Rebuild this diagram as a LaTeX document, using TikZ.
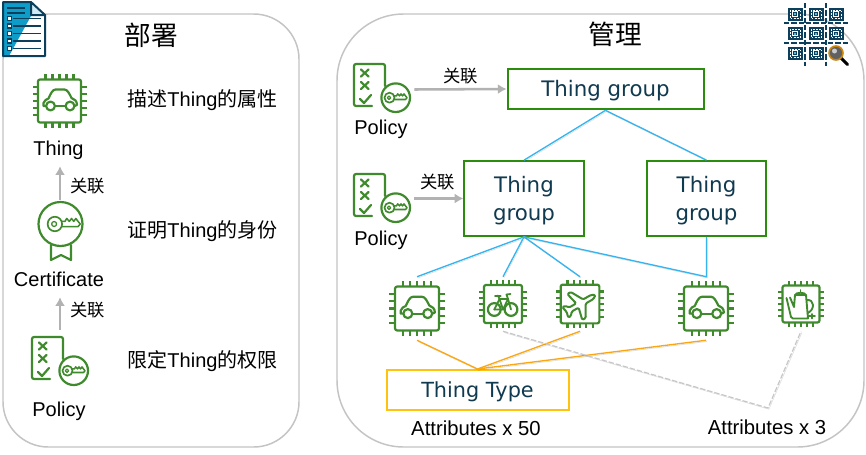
\documentclass[tikz,border=0pt]{standalone}
\usepackage{fontspec}
\setmainfont{Liberation Sans}
\newfontfamily\cjkf{Noto Sans CJK SC}
\newfontfamily\djvf{DejaVu Sans}
\usetikzlibrary{arrows.meta}
\definecolor{icong}{HTML}{3F8A2C}
\definecolor{boxg}{HTML}{2C8C0E}
\definecolor{navy}{HTML}{0C3F5C}
\definecolor{tcol}{HTML}{103A50}
\definecolor{cy}{HTML}{0E9CC8}
\definecolor{bl}{HTML}{35B4F0}
\definecolor{org}{HTML}{FBA714}
\definecolor{yel}{HTML}{FFC20E}
\definecolor{panel}{HTML}{C4C4C4}
\newcommand{\dn}[1]{\raisebox{-1.5pt}[\dimexpr\height+1.5pt\relax]{#1}}
\tikzset{
  x=.75pt,y=-.75pt,
  panelbox/.style={draw=panel,line width=1.1pt},
  soft/.style={preaction={draw=black,opacity=.14,transform canvas={shift={(.7pt,-.9pt)}}}},
  grayarrow/.style={draw=black!30,line width=1.9pt,-{Latex[length=6.5pt,width=7.5pt]}},
  blueline/.style={draw=bl,line width=1pt,soft},
  orangeline/.style={draw=org,line width=1pt,soft},
  dashline/.style={draw=black!22,line width=.9pt,dash pattern=on 4pt off 1.5pt,soft},
  greenbox/.style={draw=boxg,line width=1.5pt,fill=white,inner sep=0pt,font=\djvf\fontsize{16}{21}\selectfont,text=tcol,align=center},
  lab/.style={inner sep=0pt,font=\fontsize{15}{18}\selectfont},
  desc/.style={inner sep=0pt,font=\fontsize{15}{18}\selectfont},
  assoc/.style={inner sep=0pt,font=\cjkf\fontsize{13}{16}\selectfont},
  anchorbox/.style={inner sep=0pt,minimum width=#1,minimum height=#1},
  icon/.style={draw=icong,line width=1.65pt,line cap=round,line join=round},
  chip/.pic={
    \draw[icon,rounded corners=1.5pt,fill=white] (-21.5,-21.5) rectangle (21.5,21.5);
    \foreach \p in {-14,-7,0,7,14}{
      \draw[icon,line cap=butt] (\p,-21.5)--(\p,-27);
      \draw[icon,line cap=butt] (\p,21.5)--(\p,27);
      \draw[icon,line cap=butt] (-21.5,\p)--(-27,\p);
      \draw[icon,line cap=butt] (21.5,\p)--(27,\p);
    }
  },
  carshape/.pic={
    \draw[icon] (-13.5,5) -- (-16,5) -- (-16,2) .. controls (-15,-1) and (-13,-1.5) .. (-11,-2.5) .. controls (-9,-7) and (-7,-11.5) .. (-4,-11.5) -- (5,-11.5) .. controls (8,-11.5) and (10,-7) .. (12,-3) .. controls (15,-2) and (17.5,0) .. (17.5,4) -- (15,5);
    \draw[icon] (-4.5,5) -- (6,5);
    \draw[icon] (-9,5) circle (4.4);
    \draw[icon] (10.5,5) circle (4.4);
  },
  bikeshape/.pic={
    \draw[icon] (-8.7,5.5) circle (6.4);
    \draw[icon] (8,5.5) circle (6.4);
    \draw[icon,line width=1.35pt] (-8.7,5.5)--(-3.5,-5)--(5,-5)--(8,5.5);
    \draw[icon,line width=1.35pt] (-8.7,5.5)--(0,5.5)--(5,-5);
    \draw[icon,line width=1.35pt] (-3.5,-5)--(0,5.5);
    \draw[icon,line width=1.35pt] (-5,-8.5)--(-3.5,-5);
    \draw[icon,line width=1.5pt] (-8,-8.5)--(-2.5,-8.5);
    \draw[icon,line width=1.35pt] (5,-5)--(3.5,-9.5)--(7.5,-10);
  },
  planeshape/.pic={
    \draw[icon,line width=1.5pt,rotate=30,rounded corners=1pt] (18,0) -- (14,-2.4) -- (5,-2.4) -- (-2,-15) -- (-6,-15) -- (-3,-2.4) -- (-11,-2.4) -- (-14,-6) -- (-17,-6) -- (-15.5,0) -- (-17,6) -- (-14,6) -- (-11,2.4) -- (-3,2.4) -- (-6,15) -- (-2,15) -- (5,2.4) -- (14,2.4) -- cycle;
  },
  kettleshape/.pic={
    \draw[icon,line width=1.4pt] (-14.5,-6) -- (-10,13) -- (-8,14.5) -- (7,14.5) -- (5,-9) -- (-6,-9) -- (-7,3) -- (-11,-6.5);
    \draw[icon,line width=1.4pt] (-6,-9) .. controls (-5,-12) and (4,-12) .. (5,-9);
    \draw[icon,line width=1.4pt] (-.5,-12) -- (-.5,-14);
    \draw[icon,line width=1.4pt] (5.5,-4) .. controls (14,-5) and (14,6) .. (6.5,9);
    \draw[icon,line width=1.3pt] (7,12) -- (11,12) (11,10)--(11,14.5) (11,12)--(14,12);
  },
  keyshape/.pic={
    \draw[icon,line width=1.25pt] (-7,0) circle (5);
    \draw[icon,line width=.95pt] (-7.5,0) circle (1.7);
    \draw[icon,line width=1.15pt] (-2.3,-1.8) -- (0,-1.8) -- (1.2,-3.8) -- (3,-1.8) -- (4.5,-3.8) -- (6,-1.8) -- (7.5,-3.8) -- (9,-1.8) -- (10.5,0) -- (9,1.8) -- (-2.3,1.8);
  },
  policyshape/.pic={
    \draw[icon,rounded corners=1.5pt] (18,42) -- (0,42) -- (0,0) -- (31,0) -- (31,22);
    \draw[icon] (7,5.5)--(14.5,12.5) (14.5,5.5)--(7,12.5);
    \draw[icon] (7,18)--(14.5,25) (14.5,18)--(7,25);
    \draw[icon] (6,35)--(10,39)--(17,31);
    \draw[icon,fill=white] (41.7,33.7) circle (14.3);
    \pic at (42.5,33.7) {keyshape};
  },
  tile/.pic={
    \fill[navy] (-7.5,-6.5) rectangle (7.5,6.5);
    \draw[white,line width=.45pt,dash pattern=on 1.4pt off .9pt] (-5.2,-4.2) rectangle (5.2,4.2);
    \draw[white,line width=.5pt] (-2.2,-2.2) rectangle (2.2,2.2);
    \fill[cy!70!white] (-1,-1) rectangle (1,1);
  },
}
\begin{document}
\begin{tikzpicture}
\useasboundingbox (0,0) rectangle (866,454);
\fill[white] (0,0) rectangle (866,454);

% panels
\draw[panelbox,rounded corners=34pt] (3,14) rectangle (299,447);
\draw[panelbox,rounded corners=50pt] (337,14) rectangle (864,447);

% document icon
\fill[white] (3,2) -- (31,2) -- (45,15) -- (45,56) -- (3,56) -- cycle;
\fill[cy] (3,2) -- (31,2) -- (31,16) -- (9,56) -- (3,56) -- cycle;
\fill[cy!20!white] (31,2) -- (45,15) -- (31,15) -- cycle;
\draw[navy,line width=1.5pt,line join=round] (3,2) -- (31,2) -- (45,15) -- (45,56) -- (3,56) -- cycle (31,2) -- (31,15) -- (45,15);
\draw[navy,line width=1.2pt] (7,8)--(25,8) (7,13)--(25,13);
\foreach \y in {18.5,26,33.5,41,48.5}{
  \draw[navy,line width=1.2pt] (13,\y)--(41,\y);
  \draw[navy,line width=.8pt,fill=white] (7.5,\y-2) rectangle (11.5,\y+2);
}

% grid icon
\foreach \x/\y in {795/14,816/14,836/14,795/33.5,816/33.5,836/33.5,795/53,816/53}{
  \pic at (\x,\y) {tile};
}
\draw[navy,line width=1.1pt,dash pattern=on 4pt off 1.5pt] (805,3)--(805,66) (826,3)--(826,66) (784,23)--(848,23) (784,43)--(848,43);
\draw[black,line width=2.2pt,line cap=round] (841,58)--(847.5,64.5);
\draw[org!80!black,line width=1.2pt,fill=black!62] (836,53) circle (7);
\fill[black!20] (834.5,51) circle (2.5);

% left column
\node[anchorbox=54pt] (thingIcon) at (59.5,101) {};
\pic at (thingIcon.center) {chip};
\pic at (thingIcon.center) {carshape};
\node[lab,minimum height=24pt] (thingL) at (58.5,150) {Thing};
\node[inner sep=0pt,minimum width=50pt,minimum height=48pt] (certIcon) at (60,232) {};
\draw[icon,fill=white] (60.5,224) circle (22);
\draw[icon] (51,245) -- (51,260) -- (61,255) -- (71,260) -- (71,245);
\pic[scale=1.45] at (65,224) {keyshape};
\node[lab,minimum height=27pt] (certL) at (59,279) {Certificate};
\node[inner sep=0pt,minimum width=50pt,minimum height=42pt] (polL) at (60,358) {};
\pic at (32,337) {policyshape};
\node[lab] (polLT) at (59,411) {Policy};
\draw[grayarrow] (certIcon.north) -- (certIcon.north |- thingL.south);
\draw[grayarrow] (polL.north) -- (polL.north |- certL.south);
\node[assoc] (as1) at (87.5,186) {关联};
\node[assoc] (as2) at (87.5,310) {关联};
\node[desc] (d1) at (202.5,100.5) {{\cjkf 描述}Thing{\cjkf 的属性}};
\node[desc] (d2) at (202.5,231.5) {{\cjkf 证明}Thing{\cjkf 的身份}};
\node[desc] (d3) at (202.5,361.5) {{\cjkf 限定}Thing{\cjkf 的权限}};
\node[inner sep=0pt,font=\cjkf\fontsize{20}{22}\selectfont] (t1) at (151,35) {部署};
\node[inner sep=0pt,font=\cjkf\fontsize{20}{22}\selectfont] (t2) at (615,34) {管理};

% right: groups
\node[greenbox,minimum width=147pt,minimum height=30.5pt] (tgA) at (605.5,89) {\dn{Thing group}};
\node[greenbox,minimum width=89.5pt,minimum height=56pt] (tgB) at (524,198.5) {\dn{Thing}\\\dn{group}};
\node[greenbox,minimum width=89.5pt,minimum height=56pt] (tgC) at (706.5,198.5) {\dn{Thing}\\\dn{group}};
\node[draw=yel,line width=1.5pt,inner sep=0pt,minimum width=136.5pt,minimum height=30pt,font=\djvf\fontsize{15.6}{20}\selectfont,text=tcol] (tt) at (477.5,390) {\dn{Thing Type}};

% policies
\node[inner sep=0pt,minimum width=45pt,minimum height=36pt] (polA) at (384,89.5) {};
\pic at (354,64) {policyshape};
\node[lab] (polAL) at (381,129) {Policy};
\node[inner sep=0pt,minimum width=45pt,minimum height=36pt] (polB) at (384,198.5) {};
\pic at (354,174) {policyshape};
\node[lab] (polBL) at (381,240) {Policy};
\draw[grayarrow] (polA.east) -- (tgA.west);
\draw[grayarrow] (polB.east) -- (tgB.west);
\node[assoc] (as3) at (460.5,76) {关联};
\node[assoc] (as4) at (437.5,182) {关联};

% things
\node[anchorbox=47.25pt] (c1) at (417,308.5) {};
\pic[scale=1.02] at (c1.center) {chip};
\pic[scale=1.02] at (c1.center) {carshape};
\node[anchorbox=40.5pt] (c2) at (503,304) {};
\pic[scale=.885] at (c2.center) {chip};
\pic at (c2.center) {bikeshape};
\node[anchorbox=40.5pt] (c3) at (580,304) {};
\pic[scale=.9] at (c3.center) {chip};
\pic at (c3.center) {planeshape};
\node[anchorbox=47.25pt] (c4) at (706,308.5) {};
\pic[scale=1.02] at (c4.center) {chip};
\pic[scale=1.02] at (c4.center) {carshape};
\node[anchorbox=40.5pt] (c5) at (801,304) {};
\pic[scale=.86] at (c5.center) {chip};
\pic at (c5.center) {kettleshape};
\node[inner sep=0pt,font=\fontsize{15.2}{18}\selectfont] (a50) at (476,428) {Attributes x 50};
\node[inner sep=0pt,font=\fontsize{15.2}{18}\selectfont] (a3) at (767,427) {Attributes x 3};
\coordinate (dashcorner) at (768,408);

% connectors
\draw[blueline] (tgA.south) -- (tgB.north);
\draw[blueline] (tgA.south) -- (tgC.north);
\draw[blueline] (tgB.south) -- (c1.north);
\draw[blueline] (tgB.south) -- (c2.north);
\draw[blueline] (tgB.south) -- (c3.north);
\draw[blueline] (tgB.south) -- (tgC.south |- c4.north) -- (tgC.south);
\draw[orangeline] (c1.south) -- (tt.north);
\draw[orangeline] (c3.south) -- (tt.north);
\draw[orangeline] (c4.south) -- (tt.north);
\draw[dashline] (c2.south) -- (dashcorner) -- (c5.south);
\end{tikzpicture}
\end{document}
